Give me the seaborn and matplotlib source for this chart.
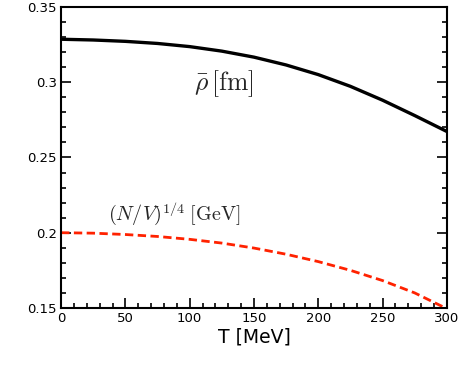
import numpy as np
import pandas as pd
import matplotlib
matplotlib.use("Agg")
import matplotlib.pyplot as plt
import seaborn as sns
from matplotlib.ticker import MultipleLocator

# valores
T = [0, 25, 50, 75, 100, 125, 150, 175, 200, 225, 250, 275, 300]
rho_fm = [0.3286, 0.3281, 0.3272, 0.3258, 0.3237, 0.3207, 0.3167, 0.3115, 0.3051,
          0.2973, 0.2881, 0.2779, 0.2673]
nv_gev = [0.2000, 0.1997, 0.1988, 0.1975, 0.1956, 0.1931, 0.1898, 0.1857, 0.1808,
          0.1750, 0.1682, 0.1600, 0.1495]

df = pd.DataFrame({'T': T, 'rho': rho_fm, 'nv': nv_gev})

sns.set_theme(style="white")
plt.rcParams['font.family'] = ['DejaVu Sans']
plt.rcParams['mathtext.fontset'] = 'cm'

fig = plt.figure(figsize=(4.63, 3.71), dpi=100)
ax = fig.add_axes([0.132, 0.170, 0.833, 0.811])

sns.lineplot(data=df, x='T', y='rho', color='black', linewidth=2.4, ax=ax)
sns.lineplot(data=df, x='T', y='nv', color='#ff2200', linewidth=2.0,
             linestyle=(0, (3, 1.6)), ax=ax)

ax.set_xlim(0, 300)
ax.set_ylim(0.15, 0.35)
ax.xaxis.set_major_locator(MultipleLocator(50))
ax.xaxis.set_minor_locator(MultipleLocator(10))
ax.yaxis.set_major_locator(MultipleLocator(0.05))
ax.yaxis.set_minor_locator(MultipleLocator(0.01))
ax.set_yticks([0.15, 0.2, 0.25, 0.3, 0.35])
ax.set_yticklabels(['0.15', '0.2', '0.25', '0.3', '0.35'])

ax.tick_params(which='both', direction='in', left=True, right=True, bottom=True,
               top=False, color='black', labelcolor='black', width=1.2,
               labelsize=9.5, pad=3)
ax.tick_params(which='major', length=7)
ax.tick_params(which='minor', length=3.5)
for s in ax.spines.values():
    s.set_color('black')
    s.set_linewidth(1.5)

ax.set_xlabel('T [MeV]', fontsize=13.5, labelpad=2, color='black')
ax.set_ylabel('')

ax.text(103.5, 0.2993, r'$\bar{\rho}\,[\mathrm{fm}]$', fontsize=18.5, va='center', ha='left')
ax.text(36.5, 0.2122, r'$(N/V)^{1/4}\;[\mathrm{GeV}]$', fontsize=14.5, va='center', ha='left')

plt.savefig('out.png', dpi=100)
